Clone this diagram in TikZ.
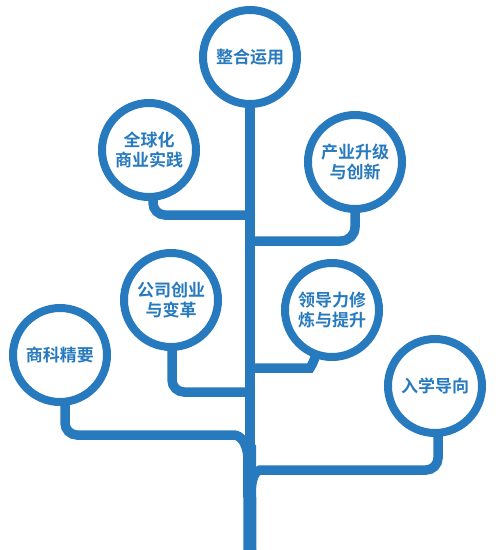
\documentclass[tikz,border=0pt]{standalone}
\usepackage{fontspec}
\newfontfamily\cjk{Noto Sans CJK SC}[BoldFont={Noto Sans CJK SC Bold}]
\definecolor{tblue}{RGB}{40,122,190}
\begin{document}
\begin{tikzpicture}[x=1pt,y=-1pt,
  bub/.style={circle,draw=tblue,line width=8pt,fill=white,minimum size=94pt,inner sep=0pt,outer sep=0pt,
    align=center,text=tblue,font=\cjk\bfseries\fontsize{17pt}{20pt}\selectfont},
  br/.style={draw=tblue,line width=9.5pt,rounded corners=12pt}]
\useasboundingbox (0,0) rectangle (500,550);
\fill[white] (0,0) rectangle (500,550);
% trunk coordinates
\coordinate (tb) at (250,550);
\coordinate (t2) at (250,215);
\coordinate (t3) at (250,241);
\coordinate (t4) at (250,392);
\coordinate (t5) at (250,368);
\coordinate (t6) at (248,460);
\coordinate (t7) at (251,494);
\coordinate (tf) at (249.5,445);
% nodes
\node[bub] (c1) at (250,57) {整合运用};
\node[bub] (c2) at (149,150) {全球化\\商业实践};
\node[bub] (c3) at (355,162) {产业升级\\与创新};
\node[bub] (c4) at (171,300) {公司创业\\与变革};
\node[bub] (c5) at (332,310) {领导力修\\炼与提升};
\node[bub] (c6) at (60,355) {商科精要};
\node[bub] (c7) at (435,386) {入学导向};
% trunk
\draw[tblue,line width=10pt] (c1.south) -- (tb);
\draw[tblue,line width=13pt] (tf) -- (tb);
% branches
\draw[br] ([xshift=4pt]c2.south) |- (t2);
\draw[br,rounded corners=14pt] (c3.south) |- (t3);
\draw[br] ([xshift=1pt]c4.south) |- (t4);
\draw[br] (t5) -- (298,368) .. controls (310,368) and (314,362) .. (c5.250);
\draw[br] ([xshift=5pt]c6.south) |- (222,435) .. controls (240,435) and (248,443) .. (t6);
\draw[br] ([xshift=3pt]c7.south) |- (272,470) .. controls (256,470) and (251,478) .. (t7);
\end{tikzpicture}
\end{document}
